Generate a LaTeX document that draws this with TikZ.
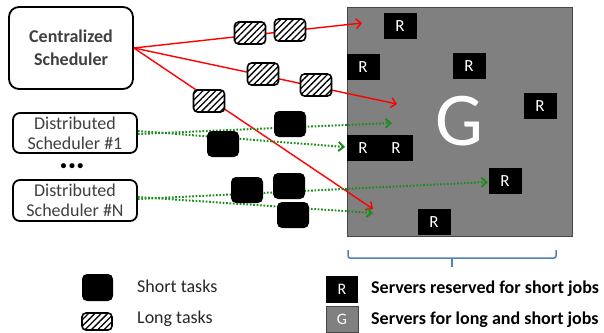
\documentclass[tikz,border=0pt]{standalone}
\usepackage{fontspec}
\setmainfont{Carlito}
\usetikzlibrary{arrows.meta,patterns.meta}
\definecolor{redline}{RGB}{255,0,0}
\definecolor{greenline}{RGB}{30,140,30}
\definecolor{bracec}{RGB}{79,129,189}
\definecolor{txt}{RGB}{64,64,64}
\definecolor{boxgray}{RGB}{128,128,128}
\definecolor{edgegray}{RGB}{70,70,70}
\begin{document}
\begin{tikzpicture}[x=1pt,y=-1pt,
  sched/.style={draw=black, line width=1.8pt, fill=white, inner sep=0pt, align=center, text=txt},
  longtask/.style={draw=black, line width=1.6pt, rounded corners=4pt, minimum width=31pt, minimum height=22pt, inner sep=0pt,
     preaction={fill=white}, pattern={Lines[angle=45,distance=4.5pt,line width=1.3pt]}, pattern color=black},
  shorttask/.style={fill=black, rounded corners=5pt, minimum width=32pt, minimum height=26pt, inner sep=0pt},
  server/.style={fill=black, minimum width=33pt, minimum height=26pt, inner sep=0pt, text=white, font=\fontsize{17}{17}\selectfont},
  redarrow/.style={draw=redline, line width=1.4pt, -{Straight Barb[length=5pt,width=10pt]}},
  greenarrow/.style={draw=greenline, line width=2pt, dash pattern=on 1.7pt off 1.7pt, -{Straight Barb[length=5pt,width=9pt]}},
  legtext/.style={anchor=west, inner sep=0pt, font=\fontsize{18}{18}\selectfont},
]
\useasboundingbox (0,0) rectangle (604,332);

% server pool
\node[draw=edgegray, line width=1pt, fill=boxgray, minimum width=225pt, minimum height=229pt, inner sep=0pt,
      text=white, font=\fontsize{76}{76}\selectfont] (pool) at (459.5,121.5) {G};

% reserved servers
\node[server] (r1) at (400,26) {R};
\node[server] (r2) at (363,67) {R};
\node[server] (r3) at (469,66) {R};
\node[server] (r4) at (540,106) {R};
\node[server] (r5) at (363,148) {R};
\node[server] (r6) at (396,148) {R};
\node[server] (r7) at (505,181) {R};
\node[server] (r8) at (434,222) {R};

% schedulers
\node[sched, rounded corners=10pt, minimum width=124pt, minimum height=82pt,
      font=\bfseries\fontsize{18}{23}\selectfont] (cs) at (71,48) {Centralized\\Scheduler};
\node[sched, rounded corners=7pt, minimum width=124pt, minimum height=40pt,
      font=\fontsize{18}{20}\selectfont] (ds1) at (75,133) {Distributed\\Scheduler \#1};
\node[sched, rounded corners=7pt, minimum width=124pt, minimum height=41pt,
      font=\fontsize{18}{20}\selectfont] (dsn) at (75,200.5) {Distributed\\Scheduler \#N};
\node[font=\bfseries\fontsize{12}{12}\selectfont, inner sep=0pt] (dots) at (72,167) {•\hspace{2.5pt}•\hspace{2.5pt}•};

% arrow end points
\coordinate (e1) at (362,23);
\coordinate (e2) at (397,104);
\coordinate (e3) at (373,209);
\coordinate (g1) at (392,123);
\coordinate (g2) at (345,147);
\coordinate (g3) at (488,182);
\coordinate (g4) at (373,213);

% red connectors
\draw[redarrow] (cs.east) -- (e1);
\draw[redarrow] (cs.east) -- (e2);
\draw[redarrow] (cs.east) -- (e3);

% green connectors
\draw[greenarrow] ([yshift=-1pt]ds1.east) -- (g1);
\draw[greenarrow] ([yshift=2pt]ds1.east) -- (g2);
\draw[greenarrow] ([yshift=1.5pt]dsn.east) -- (g3);
\draw[greenarrow] ([yshift=3.5pt]dsn.east) -- (g4);

% long tasks
\node[longtask] (l1) at (250,33) {};
\node[longtask] (l2) at (290,30) {};
\node[longtask] (l3) at (263,74) {};
\node[longtask] (l4) at (316,85) {};
\node[longtask] (l5) at (209,101) {};

% short tasks
\node[shorttask] (s1) at (290,124) {};
\node[shorttask] (s2) at (223,144) {};
\node[shorttask] (s3) at (247,190) {};
\node[shorttask] (s4) at (289,186) {};
\node[shorttask] (s5) at (293,215) {};

% brace
\draw[bracec, line width=1.5pt, rounded corners=2pt] (348,250) -- (348,258) -- (556,258) -- (556,250);
\draw[bracec, line width=1.5pt] (452,258) -- (452,267);

% legend
\node[shorttask, minimum width=31pt, minimum height=27pt] (lgs) at (97.5,287.5) {};
\node[legtext, text=black!85] (lgst) at (137,286) {Short tasks};
\node[longtask, minimum width=30pt, minimum height=17pt] (lgl) at (97,321.5) {};
\node[legtext, text=black!85] (lglt) at (137,319) {Long tasks};
\node[server, minimum width=32pt, minimum height=27pt, font=\fontsize{16}{16}\selectfont] (lgr) at (342,289.5) {R};
\node[legtext, font=\bfseries\fontsize{18}{18}\selectfont] (lgrt) at (371,289) {Servers reserved for short jobs};
\node[draw=edgegray, line width=1pt, fill=boxgray, minimum width=32pt, minimum height=26pt, inner sep=0pt,
      text=white, font=\fontsize{16}{16}\selectfont] (lgg) at (342,319) {G};
\node[legtext, font=\bfseries\fontsize{18}{18}\selectfont] (lggt) at (371,320) {Servers for long and short jobs};
\end{tikzpicture}
\end{document}
